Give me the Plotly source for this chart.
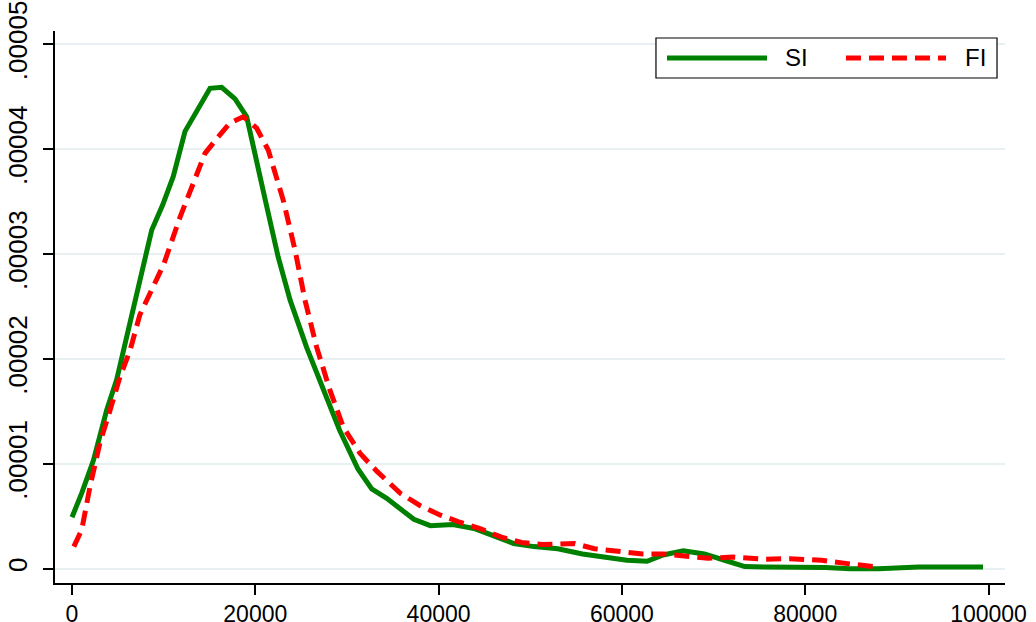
import plotly.graph_objects as go

# ---- data (density values in units of 1e-5) ----
si_x = [0, 1060, 2330, 3780, 4870, 5960, 7060, 8700, 9900, 11050, 12330, 13780,
        15060, 16330, 17790, 19060, 19900, 21100, 22500, 23800, 25600, 27400,
        29200, 31200, 32700, 34340, 35790, 37300, 39100, 41550, 44000, 46000,
        48200, 50400, 53000, 55700, 58300, 60550, 62750, 64500, 66700, 69000,
        71200, 73400, 75600, 80000, 82200, 84900, 88000, 92400, 95500, 99400]
si_y = [0.49, 0.72, 1.03, 1.51, 1.80, 2.21, 2.62, 3.23, 3.47, 3.74, 4.17, 4.40,
        4.58, 4.59, 4.48, 4.31, 4.00, 3.51, 2.97, 2.56, 2.11, 1.70,
        1.32, 0.95, 0.76, 0.67, 0.57, 0.47, 0.41, 0.42, 0.38, 0.31,
        0.24, 0.21, 0.19, 0.14, 0.11, 0.08, 0.07, 0.13, 0.17, 0.14,
        0.08, 0.02, 0.016, 0.016, 0.01, 0.0, 0.0, 0.016, 0.016, 0.016]

fi_x = [200, 1060, 1960, 3050, 4150, 5240, 6330, 7400, 8700, 10000, 11780, 13060,
        14510, 15790, 17240, 18690, 20150, 21420, 23060, 24330, 25420, 26700,
        28150, 29600, 31420, 33250, 34500, 35800, 38000, 40200, 42400, 44600,
        46850, 49050, 51300, 53500, 54800, 57000, 59700, 62300, 64500, 66700,
        69400, 72100, 75600, 78300, 81800, 84400, 87500]
fi_y = [0.21, 0.37, 0.78, 1.20, 1.51, 1.83, 2.08, 2.42, 2.66, 2.90, 3.35, 3.64,
        3.96, 4.10, 4.25, 4.31, 4.20, 3.99, 3.51, 3.04, 2.56, 2.11,
        1.70, 1.35, 1.10, 0.93, 0.82, 0.72, 0.60, 0.51, 0.44, 0.38,
        0.30, 0.25, 0.23, 0.23, 0.24, 0.19, 0.16, 0.14, 0.14, 0.12,
        0.10, 0.11, 0.09, 0.095, 0.08, 0.05, 0.02]

x_ticks = [0, 20000, 40000, 60000, 80000, 100000]
x_labels = ["0", "20000", "40000", "60000", "80000", "100000"]
y_ticks = [0, 1e-5, 2e-5, 3e-5, 4e-5, 5e-5]
y_labels = ["0", ".00001", ".00002", ".00003", ".00004", ".00005"]

series_names = ["SI", "FI"]
GREEN = "#008000"
RED = "#ff0000"

FONT = "Liberation Sans, Arial, sans-serif"

fig = go.Figure()
fig.add_trace(go.Scatter(x=si_x, y=[v * 1e-5 for v in si_y], mode="lines",
                         name=series_names[0], line=dict(color=GREEN, width=5)))
fig.add_trace(go.Scatter(x=fi_x, y=[v * 1e-5 for v in fi_y], mode="lines",
                         name=series_names[1],
                         line=dict(color=RED, width=5, dash="15px,8px")))

# custom legend (paper coordinates)
shapes = [
    dict(type="rect", xref="paper", yref="paper", x0=0.6326, x1=0.9916,
         y0=0.9149, y1=0.9873, line=dict(color="black", width=1.2),
         fillcolor="white", layer="above"),
    dict(type="line", xref="paper", yref="paper", x0=0.6442, x1=0.7495,
         y0=0.9511, y1=0.9511, line=dict(color=GREEN, width=5), layer="above"),
    dict(type="line", xref="paper", yref="paper", x0=0.8326, x1=0.9379,
         y0=0.9511, y1=0.9511, line=dict(color=RED, width=5, dash="15px,8px"),
         layer="above"),
]
annotations = [
    dict(xref="paper", yref="paper", x=0.7663, y=0.9511, text=series_names[0],
         showarrow=False, xanchor="left", yanchor="middle",
         font=dict(family=FONT, size=24, color="black")),
    dict(xref="paper", yref="paper", x=0.9558, y=0.9511, text=series_names[1],
         showarrow=False, xanchor="left", yanchor="middle",
         font=dict(family=FONT, size=24, color="black")),
]

fig.update_layout(
    width=1036, height=622,
    margin=dict(l=55, r=31, t=31, b=39, autoexpand=False),
    paper_bgcolor="white", plot_bgcolor="white",
    showlegend=False,
    font=dict(family=FONT, color="black"),
    shapes=shapes, annotations=annotations,
    xaxis=dict(range=[-1855, 101800], tickvals=x_ticks, ticktext=x_labels,
               automargin=False,
               showgrid=False, zeroline=False, showline=True, linecolor="black",
               linewidth=1.5, ticks="outside", ticklen=10, tickwidth=1.5,
               tickcolor="black", ticklabelstandoff=0,
               tickfont=dict(family=FONT, size=23)),
    yaxis=dict(range=[-1.37e-6, 5.127e-5], tickvals=y_ticks, ticktext=y_labels,
               automargin=False,
               tickangle=-90, showgrid=True, gridcolor="#e8f0f2", gridwidth=2,
               zeroline=False, showline=True, linecolor="black", linewidth=1.5,
               ticks="outside", ticklen=10, tickwidth=1.5, tickcolor="black",
               ticklabelstandoff=6,
               tickfont=dict(family=FONT, size=26)),
)

fig.write_html(
    "out.html",
    config={"displayModeBar": False},
    post_script="document.body.style.margin='0';document.body.style.padding='0';"
                "document.body.style.overflow='hidden';",
)
